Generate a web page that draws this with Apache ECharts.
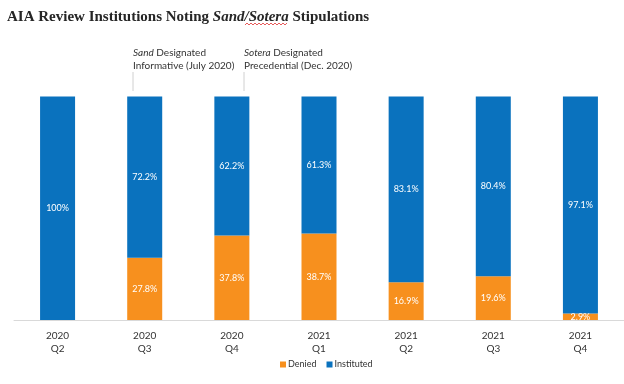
<!DOCTYPE html>
<html><head><meta charset="utf-8">
<script src="https://cdn.jsdelivr.net/npm/echarts@6/dist/echarts.min.js"></script>
<style>html,body{margin:0;padding:0;background:#fff}#c{width:624px;height:384px}</style>
</head><body><div id="c"></div>
<script>
var categories = ['2020\nQ2','2020\nQ3','2020\nQ4','2021\nQ1','2021\nQ2','2021\nQ3','2021\nQ4'];
var denied = [0, 27.8, 37.8, 38.7, 16.9, 19.6, 2.9];
var instituted = [100, 72.2, 62.2, 61.3, 83.1, 80.4, 97.1];
var chart = echarts.init(document.getElementById('c'));
var sans = 'Lato';
var wave = [];
for (var i = 0; i <= 21; i++) { wave.push([245 + i * 2, 24 + (i % 2 ? -1 : 1)]); }
chart.setOption({
  animation: false,
  title: {
    left: 2, top: 5,
    text: '{b|AIA Review Institutions Noting }{i|Sand/Sotera}{b| Stipulations}',
    textStyle: {
      rich: {
        b: {fontFamily: 'Liberation Serif', fontWeight: 'bold', fontSize: 15, color: '#262626'},
        i: {fontFamily: 'Liberation Serif', fontWeight: 'bold', fontStyle: 'italic', fontSize: 15, color: '#262626'}
      }
    }
  },
  legend: {
    top: 355, left: 275, itemWidth: 6, itemHeight: 6, itemGap: 10,
    icon: 'rect',
    textStyle: {fontFamily: sans, fontSize: 9, color: '#333', padding: [0,0,0,-3]},
    data: ['Denied','Instituted']
  },
  grid: {left: 14, right: 0, top: 96.5, bottom: 64, containLabel: false},
  xAxis: {
    type: 'category', data: categories,
    axisLine: {lineStyle: {color: '#d9d9d9'}},
    axisTick: {show: false},
    axisLabel: {fontFamily: sans, fontSize: 10, color: '#333', lineHeight: 13, margin: 9}
  },
  yAxis: {type: 'value', min: 0, max: 100, show: false, splitLine: {show: false}},
  series: [
    {name: 'Denied', type: 'bar', stack: 's', barWidth: 35, data: denied,
     itemStyle: {color: '#f7901e'},
     label: {show: true, position: 'inside', color: '#fff', fontFamily: sans, fontSize: 9,
       formatter: function(p){ return p.value ? p.value.toFixed(1) + '%' : ''; }}},
    {name: 'Instituted', type: 'bar', stack: 's', barWidth: 35, data: instituted,
     itemStyle: {color: '#0a72be'},
     label: {show: true, position: 'inside', color: '#fff', fontFamily: sans, fontSize: 9,
       formatter: function(p){ return p.value === 100 ? '100%' : p.value.toFixed(1) + '%'; }}}
  ],
  graphic: [
    {type: 'polyline', shape: {points: wave}, style: {stroke: '#e03030', lineWidth: 0.8, fill: null}},
    {type: 'text', left: 133, top: 46, style: {
      text: '{i|Sand} Designated\nInformative (July 2020)', fill: '#333', fontFamily: sans, fontSize: 10, lineHeight: 13,
      rich: {i: {fontStyle: 'italic', fontFamily: sans, fontSize: 10, fill: '#333'}}}},
    {type: 'line', shape: {x1: 133, y1: 72, x2: 133, y2: 91}, style: {stroke: '#d0d0d0', lineWidth: 1}},
    {type: 'text', left: 244, top: 46, style: {
      text: '{i|Sotera} Designated\nPrecedential (Dec. 2020)', fill: '#333', fontFamily: sans, fontSize: 10, lineHeight: 13,
      rich: {i: {fontStyle: 'italic', fontFamily: sans, fontSize: 10, fill: '#333'}}}},
    {type: 'line', shape: {x1: 244, y1: 72, x2: 244, y2: 91}, style: {stroke: '#d0d0d0', lineWidth: 1}}
  ]
});
</script></body></html>
